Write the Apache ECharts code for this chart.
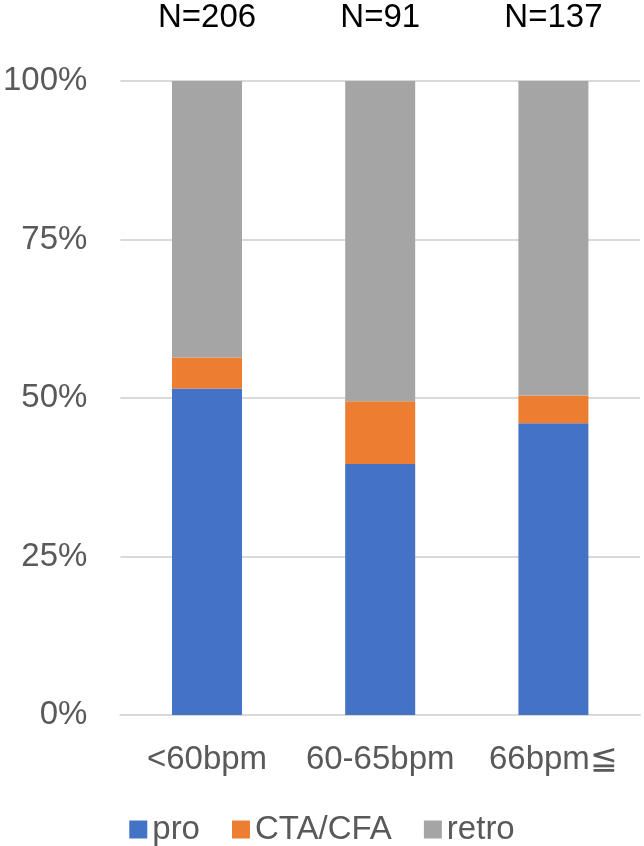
<!DOCTYPE html>
<html>
<head>
<meta charset="utf-8">
<script src="https://cdn.jsdelivr.net/npm/echarts@6/dist/echarts.min.js"></script>
<style>
html,body{margin:0;padding:0;background:#fff;}
#chart{width:644px;height:846px;}
</style>
</head>
<body>
<div id="chart"></div>
<script>
const categories = ['<60bpm', '60-65bpm', '66bpm≦'];
const nLabels = ['N=206', 'N=91', 'N=137'];
const proValues = [51.5, 39.6, 46.0];
const ctaValues = [4.9, 9.9, 4.4];
const retroValues = [43.6, 50.5, 49.6];
const yTicks = [0, 25, 50, 75, 100];

const FONT = '"Liberation Sans", Arial, sans-serif';
const chart = echarts.init(document.getElementById('chart'), null, {renderer: 'canvas'});
chart.setOption({
  animation: false,
  backgroundColor: '#ffffff',
  textStyle: {fontFamily: FONT},
  grid: {left: 119, right: 4, top: 81, bottom: 131, containLabel: false},
  legend: {
    data: ['pro', 'CTA/CFA', 'retro'],
    left: 'center',
    top: 808,
    itemWidth: 18,
    itemHeight: 18,
    itemGap: 32,
    icon: 'rect',
    textStyle: {fontSize: 33, color: '#595959', fontFamily: FONT}
  },
  xAxis: [
    {
      type: 'category',
      data: categories,
      position: 'bottom',
      axisLine: {show: true, lineStyle: {color: '#d9d9d9', width: 2}},
      axisTick: {show: false},
      axisLabel: {interval: 0, fontSize: 33, color: '#595959', margin: 28, fontFamily: FONT}
    },
    {
      type: 'category',
      data: nLabels,
      position: 'top',
      axisLine: {show: false},
      axisTick: {show: false},
      axisLabel: {interval: 0, fontSize: 33, color: '#000000', margin: 47, fontFamily: FONT}
    }
  ],
  yAxis: {
    type: 'value',
    min: 0,
    max: 100,
    interval: 25,
    axisLine: {show: false},
    axisTick: {show: false},
    axisLabel: {
      fontSize: 33, color: '#595959', margin: 33, fontFamily: FONT,
      formatter: v => yTicks.includes(v) ? v + '%' : ''
    },
    splitLine: {lineStyle: {color: '#d9d9d9', width: 2}}
  },
  series: [
    {name: 'pro', type: 'bar', stack: 'a', data: proValues, barWidth: 70, itemStyle: {color: '#4472c4'}},
    {name: 'CTA/CFA', type: 'bar', stack: 'a', data: ctaValues, barWidth: 70, itemStyle: {color: '#ed7d31'}},
    {name: 'retro', type: 'bar', stack: 'a', data: retroValues, barWidth: 70, itemStyle: {color: '#a5a5a5'}}
  ]
});
</script>
</body>
</html>
